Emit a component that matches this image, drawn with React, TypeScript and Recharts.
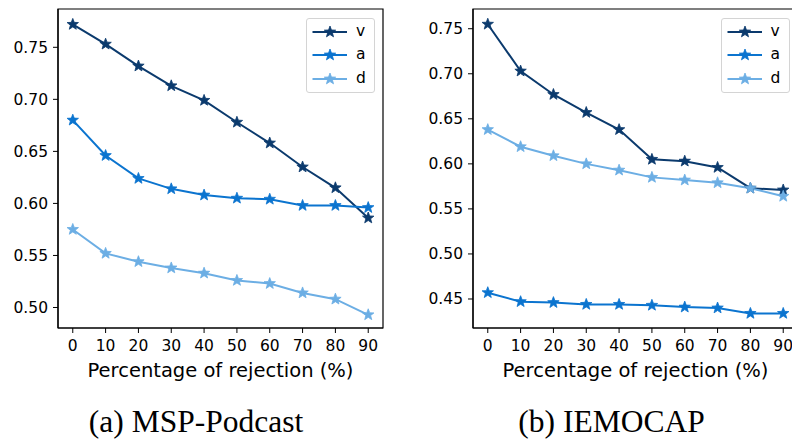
import React from 'react';
import { LineChart, Line, XAxis, YAxis, Legend, ReferenceArea } from 'recharts';

const rejection = [0, 10, 20, 30, 40, 50, 60, 70, 80, 90];
const xTicks = [0, 10, 20, 30, 40, 50, 60, 70, 80, 90];

const mspV = [0.772, 0.753, 0.732, 0.713, 0.699, 0.678, 0.658, 0.635, 0.615, 0.586];
const mspA = [0.680, 0.646, 0.624, 0.614, 0.608, 0.605, 0.604, 0.598, 0.598, 0.596];
const mspD = [0.575, 0.552, 0.544, 0.538, 0.533, 0.526, 0.523, 0.514, 0.508, 0.493];

const iemV = [0.755, 0.703, 0.677, 0.657, 0.638, 0.605, 0.603, 0.596, 0.573, 0.571];
const iemA = [0.457, 0.447, 0.446, 0.444, 0.444, 0.443, 0.441, 0.440, 0.434, 0.434];
const iemD = [0.638, 0.619, 0.609, 0.600, 0.593, 0.585, 0.582, 0.579, 0.573, 0.564];

const mspYTicks = [0.5, 0.55, 0.6, 0.65, 0.7, 0.75];
const iemYTicks = [0.45, 0.5, 0.55, 0.6, 0.65, 0.7, 0.75];

const seriesNames = ['v', 'a', 'd'];
const seriesColors = ['#0b3a6d', '#0b74cf', '#6caee4'];

const xLabel = 'Percentage of rejection (%)';
const captions = ['(a) MSP-Podcast', '(b) IEMOCAP'];

const starPath = (cx: number, cy: number, R: number) => {
  const r = R * 0.42;
  let d = '';
  for (let k = 0; k < 10; k++) {
    const ang = (-90 + k * 36) * Math.PI / 180;
    const rad = k % 2 === 0 ? R : r;
    const x = cx + rad * Math.cos(ang);
    const y = cy + rad * Math.sin(ang);
    d += (k === 0 ? 'M' : 'L') + x.toFixed(2) + ',' + y.toFixed(2);
  }
  return d + 'Z';
};

const makeDot = (color: string) => (props: any) => {
  const { cx, cy, index } = props;
  if (cx == null || cy == null) return <g key={index} />;
  return <path key={index} d={starPath(cx, cy, 6)} fill={color} stroke={color} strokeWidth={0.8} />;
};

const LegendBox = () => (
  <div
    style={{
      width: 69,
      height: 75,
      boxSizing: 'border-box',
      border: '1px solid #d4d4d4',
      borderRadius: 3,
      background: 'rgba(255,255,255,0.85)',
      position: 'relative',
      fontFamily: 'DejaVu Sans',
      fontSize: 15.5,
      color: '#000',
    }}
  >
    {seriesNames.map((n, i) => (
      <div key={n} style={{ position: 'absolute', left: 0, top: 12.7 + i * 23.6 - 10, height: 20, width: 69 }}>
        <svg width={44} height={20} style={{ position: 'absolute', left: 0, top: 0 }}>
          <line x1={5.5} x2={40} y1={10} y2={10} stroke={seriesColors[i]} strokeWidth={2} />
          <path d={starPath(23, 10, 6)} fill={seriesColors[i]} stroke={seriesColors[i]} strokeWidth={0.8} />
        </svg>
        <span style={{ position: 'absolute', left: 49, top: 0, lineHeight: '18px' }}>{n}</span>
      </div>
    ))}
  </div>
);

const tickStyle = { fill: '#000', fontSize: 15.5, fontFamily: 'DejaVu Sans' };

type PanelProps = {
  left: number;
  v: number[];
  a: number[];
  d: number[];
  yDomain: [number, number];
  yTicks: number[];
};

const Panel = ({ left, v, a, d, yDomain, yTicks }: PanelProps) => {
  const data = rejection.map((x, i) => ({ x, v: v[i], a: a[i], d: d[i] }));
  return (
    <div style={{ position: 'absolute', left, top: 0 }}>
      <LineChart width={393} height={388} data={data} margin={{ top: 9, right: 10, bottom: 0, left: 0 }}>
        <XAxis
          dataKey="x"
          type="number"
          domain={[-4.5, 94.5]}
          ticks={xTicks}
          allowDataOverflow
          height={60}
          tickSize={5}
          tickMargin={7}
          tick={tickStyle}
          axisLine={{ stroke: '#000', strokeWidth: 1.2 }}
          tickLine={{ stroke: '#000' }}
          label={{ value: xLabel, position: 'insideBottom', offset: 11, fill: '#000', fontSize: 19.5, fontFamily: 'DejaVu Sans' }}
        />
        <YAxis
          type="number"
          domain={yDomain}
          ticks={yTicks}
          allowDataOverflow
          width={58}
          tickSize={5}
          tickMargin={5}
          tick={tickStyle}
          tickFormatter={(t: number) => t.toFixed(2)}
          axisLine={{ stroke: '#000', strokeWidth: 1.2 }}
          tickLine={{ stroke: '#000' }}
        />
        <ReferenceArea
          x1={-4.5}
          x2={94.5}
          y1={yDomain[0]}
          y2={yDomain[1]}
          fill="none"
          fillOpacity={0}
          stroke="#000"
          strokeWidth={1.2}
          ifOverflow="visible"
        />
        <Legend
          layout="horizontal"
          verticalAlign="middle"
          align="center"
          content={() => <LegendBox />}
          wrapperStyle={{ left: 306, top: 18, width: 69, height: 75 }}
        />
        {seriesNames.map((n, i) => (
          <Line
            key={n}
            dataKey={n}
            name={n}
            stroke={seriesColors[i]}
            strokeWidth={2}
            dot={makeDot(seriesColors[i])}
            activeDot={false}
            isAnimationActive={false}
          />
        ))}
      </LineChart>
    </div>
  );
};

const captionStyle: React.CSSProperties = {
  position: 'absolute',
  top: 406,
  width: 360,
  textAlign: 'center',
  fontFamily: '"Liberation Serif", "Times New Roman", serif',
  fontSize: 31.5,
  lineHeight: '31.5px',
  color: '#000',
  whiteSpace: 'nowrap',
};

export default function App() {
  return (
    <div style={{ position: 'absolute', left: 0, top: 0, width: 792, height: 444, overflow: 'hidden', background: '#fff' }}>
      <Panel left={0} v={mspV} a={mspA} d={mspD} yDomain={[0.4803, 0.7868]} yTicks={mspYTicks} />
      <Panel left={414.5} v={iemV} a={iemA} d={iemD} yDomain={[0.4178, 0.7719]} yTicks={iemYTicks} />
      <div style={{ ...captionStyle, left: 196 - 180 }}>{captions[0]}</div>
      <div style={{ ...captionStyle, left: 611.5 - 180 }}>{captions[1]}</div>
    </div>
  );
}
